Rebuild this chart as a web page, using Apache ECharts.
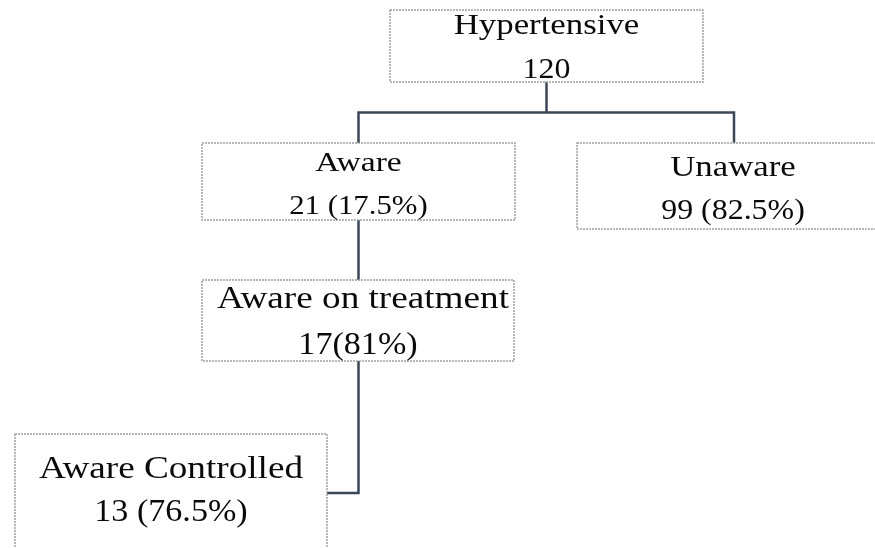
<!DOCTYPE html>
<html>
<head>
<meta charset="utf-8">
<script src="https://cdn.jsdelivr.net/npm/echarts@6/dist/echarts.min.js"></script>
<style>
  html, body { margin: 0; padding: 0; background: #fff; }
  #chart { width: 875px; height: 548px; }
</style>
</head>
<body>
<div id="chart"></div>
<script>
// Gegevens van het stroomschema.
const nodeNames = ['Hypertensive', 'Aware', 'Unaware', 'Aware on treatment', 'Aware Controlled'];
const counts = [120, 21, 99, 17, 13];
const shares = [null, 17.5, 82.5, 81, 76.5];
const shareGaps = ['', ' ', ' ', '', ' '];

// Opmaak: rechthoeken [links, boven, rechts, onder] in beeldpunten.
const boxes = [
    [390, 10, 703, 82],
    [202, 143, 515, 220],
    [577, 143, 889, 229],
    [202, 280, 514, 361],
    [15, 434, 327, 570]
];
const baselines = [[34, 78], [171, 214], [176, 219], [308, 354], [478, 521]];
const fontSizes = [29, 28, 29, 31, 31];

function secondLine(i) {
    if (shares[i] === null) return String(counts[i]);
    return counts[i] + shareGaps[i] + '(' + shares[i] + '%)';
}

function centerX(i) {
    return (boxes[i][0] + boxes[i][2]) / 2;
}

// Verbindingslijnen afleiden uit de opmaak.
let links = [];
let midY = (boxes[0][3] + boxes[1][1]) / 2;
links.push({ coords: [[centerX(0), boxes[0][3]], [centerX(0), midY]] });
links.push({ coords: [[centerX(1), boxes[1][1]], [centerX(1), midY], [734, midY], [734, boxes[2][1]]] });
links.push({ coords: [[centerX(1), boxes[1][3]], [centerX(1), boxes[3][1]]] });
links.push({ coords: [[centerX(1), boxes[3][3]], [centerX(1), 493], [boxes[4][2], 493]] });

let chart = echarts.init(document.getElementById('chart'));

let option = {
    animation: false,
    grid: { left: 0, right: 0, top: 0, bottom: 0 },
    xAxis: { type: 'value', min: 0, max: 875, show: false },
    yAxis: { type: 'value', min: 0, max: 548, inverse: true, show: false },
    series: [
        {
            type: 'lines',
            coordinateSystem: 'cartesian2d',
            polyline: true,
            silent: true,
            lineStyle: { color: '#3b4658', width: 2.5, opacity: 1 },
            data: links
        },
        {
            type: 'custom',
            coordinateSystem: 'cartesian2d',
            clip: false,
            data: nodeNames.map((n, i) => [i]),
            renderItem: function (params, api) {
                let i = api.value(0);
                let b = boxes[i];
                let fs = fontSizes[i];
                let p1 = api.coord([b[0], b[1]]);
                let p2 = api.coord([b[2], b[3]]);
                let cx = (p1[0] + p2[0]) / 2;
                let textStyle = {
                    fill: '#0a0a0a',
                    fontFamily: 'Liberation Serif',
                    fontSize: fs,
                    align: 'center',
                    verticalAlign: 'middle'
                };
                return {
                    type: 'group',
                    children: [
                        {
                            type: 'rect',
                            shape: { x: p1[0], y: p1[1], width: p2[0] - p1[0], height: p2[1] - p1[1] },
                            style: { fill: '#fff', stroke: '#a0a0a0', lineWidth: 1.5, lineDash: [2, 1] }
                        },
                        {
                            type: 'text',
                            x: cx + (i === 3 ? 5 : 0), y: api.coord([0, baselines[i][0]])[1] - 0.27 * fs,
                            scaleX: 1.2,
                            style: Object.assign({ text: nodeNames[i] }, textStyle)
                        },
                        {
                            type: 'text',
                            x: cx, y: api.coord([0, baselines[i][1]])[1] - 0.27 * fs,
                            scaleX: 1.1,
                            style: Object.assign({ text: secondLine(i) }, textStyle)
                        }
                    ]
                };
            }
        }
    ]
};

chart.setOption(option);
window.onresize = () => chart.resize();
</script>
</body>
</html>
